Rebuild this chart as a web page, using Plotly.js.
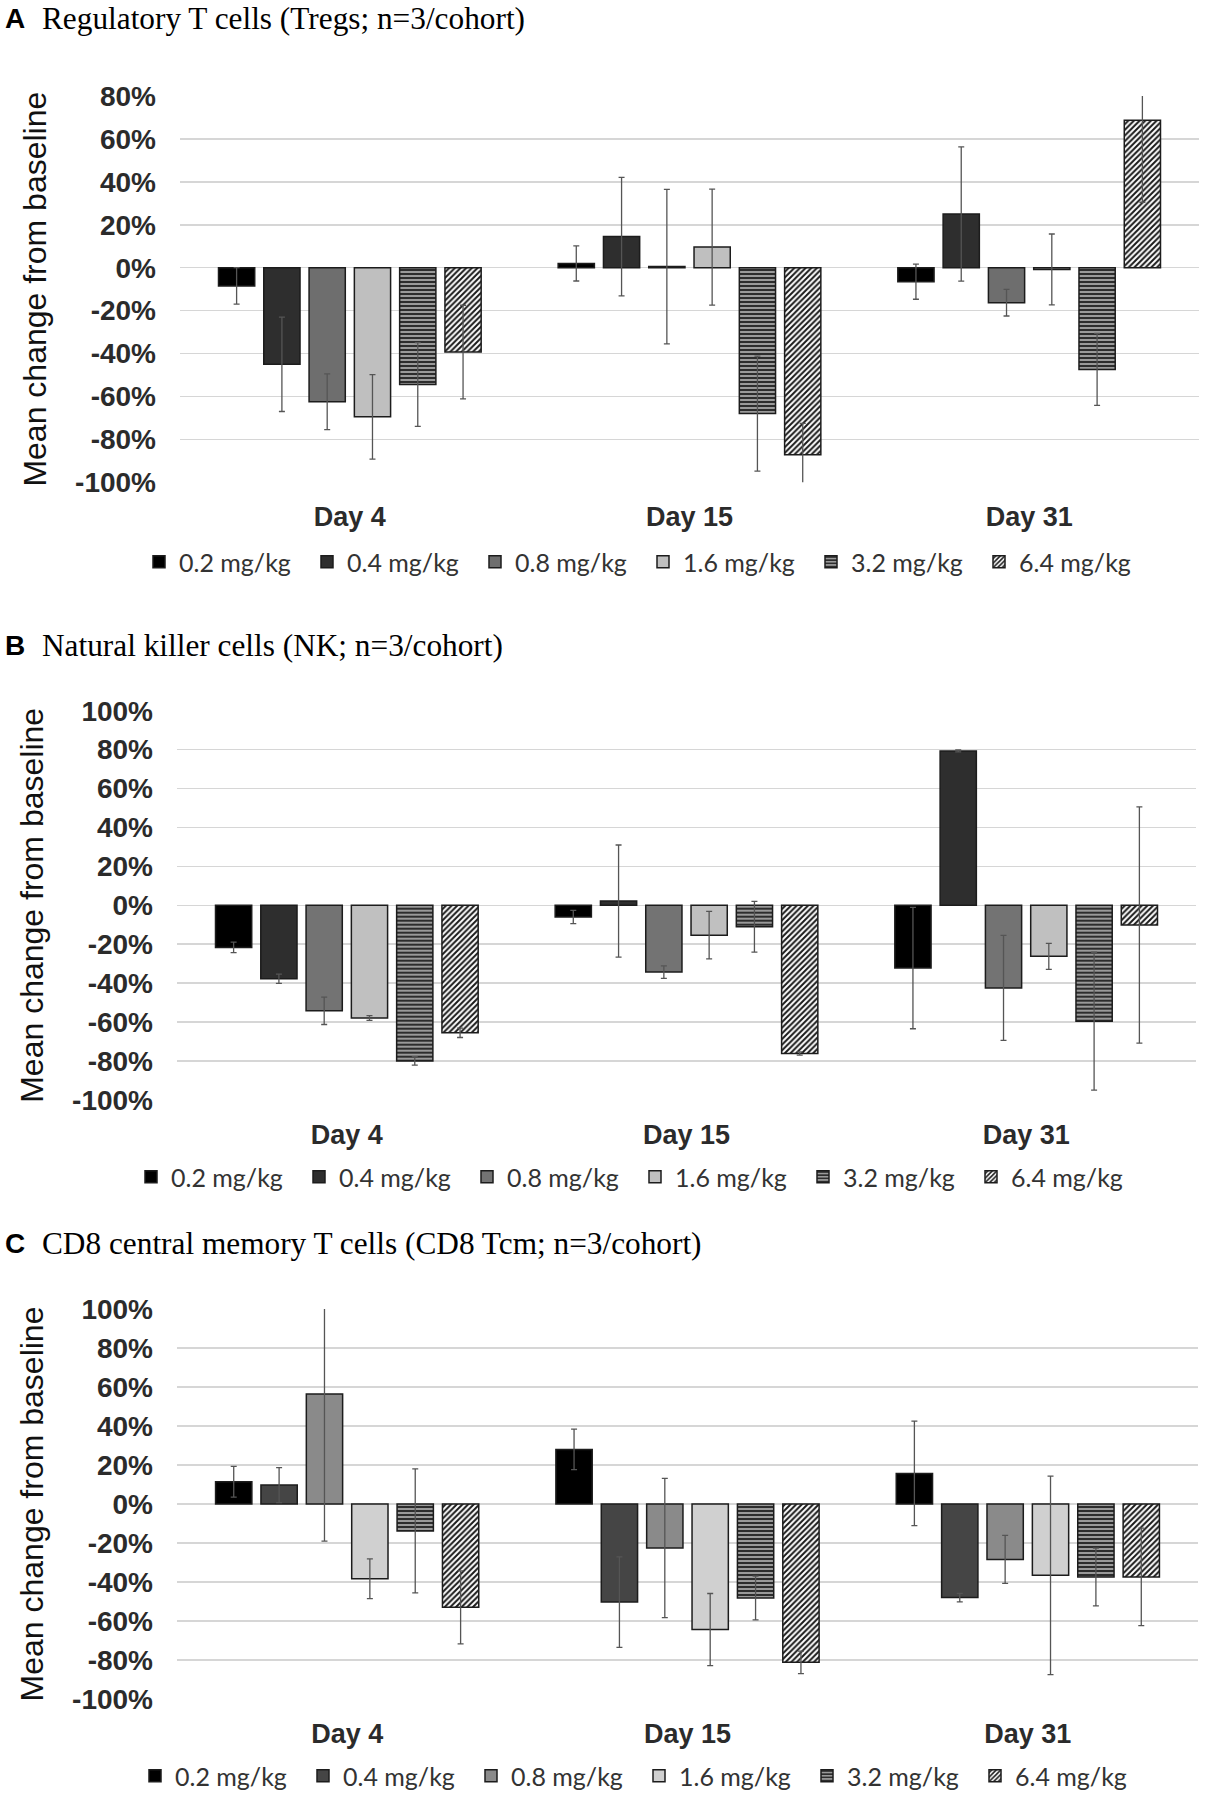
<!DOCTYPE html>
<html><head><meta charset="utf-8">
<script src="https://cdn.plot.ly/plotly-3.0.1.min.js"></script>
<style>html,body{margin:0;padding:0;background:#fff;overflow:hidden}#chart{width:1207px;height:1800px}</style>
</head><body><div id="chart"></div>
<script>
// ---------------- data ----------------
const days = ['Day 4', 'Day 15', 'Day 31'];
const doses = ['0.2 mg/kg', '0.4 mg/kg', '0.8 mg/kg', '1.6 mg/kg', '3.2 mg/kg', '6.4 mg/kg'];

// Panel A: Tregs, mean % change per dose (rows) for Day 4, 15, 31
const tregsMean = [
  [-8.5, 2.0, -6.5],
  [-45.0, 14.5, 25.0],
  [-62.5, 0.5, -16.3],
  [-69.5, 9.6, -0.8],
  [-54.4, -68.0, -47.4],
  [-39.3, -87.2, 68.7]
];
const tregsErr = [
  [8.5, 8.2, 8.2],
  [22.0, 27.6, 31.3],
  [13.0, 36.0, 6.2],
  [19.7, 27.0, 16.5],
  [19.5, 26.8, 16.8],
  [21.8, 14.7, 38.2]
];
// Panel B: NK cells
const nkMean = [
  [-21.6, -6.0, -32.2],
  [-37.7, 2.2, 79.3],
  [-54.2, -34.3, -42.4],
  [-57.9, -15.3, -26.2],
  [-79.9, -11.0, -59.5],
  [-65.5, -76.1, -10.1]
];
const nkErr = [
  [2.7, 3.4, 31.2],
  [2.4, 28.8, 0.5],
  [7.0, 3.2, 27.0],
  [1.2, 12.2, 6.7],
  [2.2, 13.0, 35.4],
  [2.4, 0.8, 60.7]
];
// Panel C: CD8 Tcm
const tcmMean = [
  [11.4, 28.0, 15.7],
  [9.7, -50.3, -48.0],
  [56.4, -22.6, -28.4],
  [-38.3, -64.4, -36.6],
  [-13.8, -48.2, -37.4],
  [-53.0, -81.2, -37.4]
];
const tcmErr = [
  [7.9, 10.4, 26.8],
  [9.0, 23.2, 2.2],
  [75.4, 35.7, 12.3],
  [10.2, 18.5, 50.9],
  [31.8, 11.2, 14.8],
  [18.7, 5.8, 25.0]
];

const yTickValsA = [-100, -80, -60, -40, -20, 0, 20, 40, 60, 80];
const yTickTextA = ['-100%', '-80%', '-60%', '-40%', '-20%', '0%', '20%', '40%', '60%', '80%'];
const yTickValsBC = [-100, -80, -60, -40, -20, 0, 20, 40, 60, 80, 100];
const yTickTextBC = ['-100%', '-80%', '-60%', '-40%', '-20%', '0%', '20%', '40%', '60%', '80%', '100%'];

const panelTitles = [
  'Regulatory T cells (Tregs; n=3/cohort)',
  'Natural killer cells (NK; n=3/cohort)',
  'CD8 central memory T cells (CD8 Tcm; n=3/cohort)'
];
const panelLetters = ['A', 'B', 'C'];
const yTitle = 'Mean change from baseline';

// ---------------- styling ----------------
const W = 1207, H = 1800;
const px2x = p => p / W;
const px2y = p => 1 - p / H;

const panelFill = [
  ['#000000', '#2e2e2e', '#6e6e6e', '#bfbfbf'],
  ['#000000', '#2e2e2e', '#737373', '#c0c0c0'],
  ['#000000', '#454545', '#8a8a8a', '#d0d0d0']
];

function markerFor(panel, k) {
  const line = {color: '#1c1c1c', width: 1.5};
  if (k < 4) return {color: panelFill[panel][k], line: line};
  if (k === 4) return {color: '#8c8c8c', line: line,
    pattern: {shape: '-', fgcolor: '#202020', bgcolor: '#9a9a9a', size: 4, solidity: 0.45}};
  return {color: '#ffffff', line: line,
    pattern: {shape: '/', fgcolor: '#1a1a1a', bgcolor: '#ffffff', size: 4, solidity: 0.5}};
}

const panels = [
  {mean: tregsMean, err: tregsErr, xa: 'x', ya: 'y', legend: 'legend'},
  {mean: nkMean, err: nkErr, xa: 'x2', ya: 'y2', legend: 'legend2'},
  {mean: tcmMean, err: tcmErr, xa: 'x3', ya: 'y3', legend: 'legend3'}
];

const traces = [];
panels.forEach((p, pi) => {
  doses.forEach((d, k) => {
    traces.push({
      type: 'bar', name: d, x: days, y: p.mean[k],
      xaxis: p.xa, yaxis: p.ya, legend: p.legend,
      marker: markerFor(pi, k),
      error_y: {type: 'data', array: p.err[k], symmetric: true, visible: true,
                color: '#555555', thickness: 1.3, width: 3},
      hoverinfo: 'skip'
    });
  });
});

const yTickFont = {family: 'Liberation Sans, Arial, sans-serif', size: 28, color: '#2b2b2b', weight: 700};
const xTickFont = {family: 'Liberation Sans, Arial, sans-serif', size: 27, color: '#2b2b2b', weight: 700};
const titleFont = {family: 'Liberation Sans, Arial, sans-serif', size: 32, color: '#111111'};

function yAxis(domain, range, vals, text, xa) {
  return {
    anchor: xa, domain: domain, range: range, tickvals: vals, ticktext: text,
    ticks: '', ticklabelstandoff: 23, showline: false,
    gridcolor: '#d6d6d6', gridwidth: 1.6,
    zeroline: true, zerolinecolor: '#d6d6d6', zerolinewidth: 1.6,
    tickfont: yTickFont, fixedrange: true,
    title: {text: yTitle, font: titleFont, standoff: 18}
  };
}
function xAxis(anchor, domain) {
  return {
    anchor: anchor, domain: domain, type: 'category', categoryorder: 'array', categoryarray: days,
    ticks: '', ticklabelstandoff: 16, showline: false, showgrid: false, zeroline: false,
    tickfont: xTickFont, fixedrange: true
  };
}

const domA = [px2y(482.3), px2y(96)];
const domB = [px2y(1100), px2y(710.7)];
const domC = [px2y(1699), px2y(1309)];
const xDomA = [px2x(180), px2x(1199)];
const xDomB = [px2x(177), px2x(1196)];
const xDomC = [px2x(177), px2x(1198)];

const legendFont = {family: 'Lato, Open Sans, sans-serif', size: 25, color: '#333333'};
function legendAt(xPx, yPx) {
  return {orientation: 'h', x: px2x(xPx), xanchor: 'left', y: px2y(yPx), yanchor: 'middle',
          font: legendFont, entrywidth: 123, entrywidthmode: 'pixels', itemwidth: 30,
          bgcolor: 'rgba(0,0,0,0)', traceorder: 'normal', itemclick: false, itemdoubleclick: false};
}

const annotations = [];
const titleY = [18, 645, 1243];
panelLetters.forEach((L, i) => {
  annotations.push({text: '<b>' + L + '</b>', xref: 'paper', yref: 'paper',
    x: px2x(3), y: px2y(titleY[i]), xanchor: 'left', yanchor: 'middle', showarrow: false,
    font: {family: 'Liberation Sans, Arial, sans-serif', size: 28, color: '#000'}});
  annotations.push({text: panelTitles[i], xref: 'paper', yref: 'paper',
    x: px2x(40), y: px2y(titleY[i]), xanchor: 'left', yanchor: 'middle', showarrow: false,
    font: {family: 'Liberation Serif, Times New Roman, serif', size: 31.3, color: '#000'}});
});

const layout = {
  width: W, height: H,
  margin: {l: 0, r: 0, t: 0, b: 0, pad: 0},
  paper_bgcolor: '#ffffff', plot_bgcolor: '#ffffff',
  barmode: 'group', bargap: 0.2, bargroupgap: 0.2,
  showlegend: true,
  xaxis: xAxis('y', xDomA), xaxis2: xAxis('y2', xDomB), xaxis3: xAxis('y3', xDomC),
  yaxis: yAxis(domA, [-100, 80], yTickValsA, yTickTextA, 'x'),
  yaxis2: yAxis(domB, [-100, 100], yTickValsBC, yTickTextBC, 'x2'),
  yaxis3: yAxis(domC, [-100, 100], yTickValsBC, yTickTextBC, 'x3'),
  legend: legendAt(139, 562), legend2: legendAt(131, 1177), legend3: legendAt(135, 1776),
  annotations: annotations
};

Plotly.newPlot('chart', traces, layout, {displayModeBar: false, staticPlot: true});
</script></body></html>
